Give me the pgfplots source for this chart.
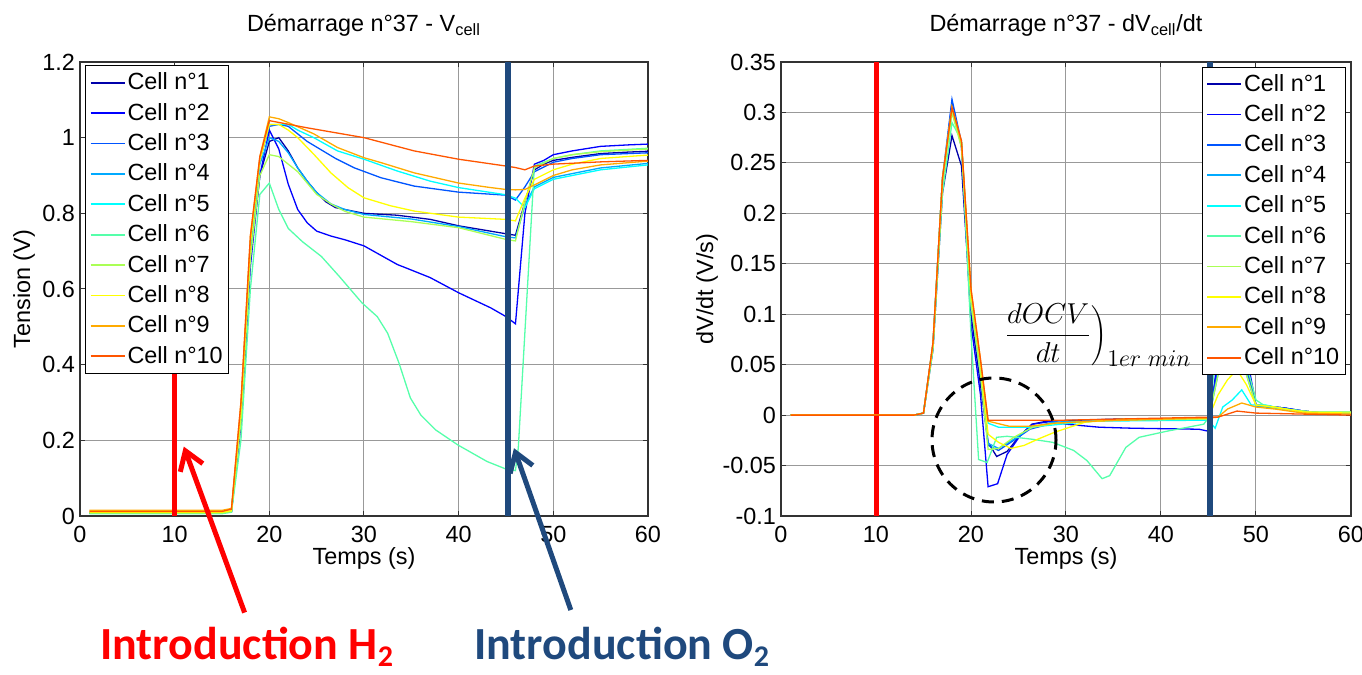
\documentclass[border=0pt]{standalone}
\usepackage{fontspec}
\setmainfont{Liberation Sans}
\newfontfamily\calibri{Carlito}
\usepackage{pgfplots}
\pgfplotsset{compat=1.18}
\usetikzlibrary{arrows.meta}
\definecolor{c1}{RGB}{0,0,170}
\definecolor{c2}{RGB}{0,0,255}
\definecolor{c3}{RGB}{0,85,255}
\definecolor{c4}{RGB}{0,170,255}
\definecolor{c5}{RGB}{0,255,255}
\definecolor{c6}{RGB}{85,255,170}
\definecolor{c7}{RGB}{170,255,85}
\definecolor{c8}{RGB}{255,255,0}
\definecolor{c9}{RGB}{255,170,0}
\definecolor{c10}{RGB}{255,85,0}
\definecolor{oxblue}{RGB}{31,73,125}
\newcommand\fs{\fontsize{11.7pt}{14pt}\selectfont}
\pgfplotsset{
  myaxis/.style={
    scale only axis, width=284pt, height=227pt,
    xmin=0, xmax=60, xtick={0,10,20,30,40,50,60},
    scaled ticks=false,
    grid=major, major grid style={black!40, line width=0.5pt},
    axis line style={black!80, line width=0.6pt},
    tick style={black!80, line width=0.5pt},
    tick align=inside, major tick length=2.5pt,
    tick label style={font=\fs}, label style={font=\fs},
    /pgf/number format/assume math mode=true,
    xticklabel style={yshift=-1.5pt},
    yticklabel style={xshift=1pt},
    xlabel={Temps (s)},
    xlabel style={at={(axis description cs:0.5,0)}, anchor=base, yshift=-24.5pt},
    title style={font=\fs, at={(axis description cs:0.5,1)}, anchor=base, yshift=9pt},
    legend cell align=left,
    legend image post style={line width=0.9pt},
    legend style={font=\fs, draw=black, line width=0.6pt, fill=white,
      row sep=2.2pt, inner sep=2pt,
      nodes={inner sep=1pt, text height=9pt, text depth=2pt}},
  },
  ln/.style={line width=0.65pt},
}
\begin{document}
\begin{tikzpicture}
\useasboundingbox (0,0) rectangle (681pt,337.5pt);
% ---------------- Left: V_cell ----------------
\begin{axis}[myaxis, at={(40pt,79.5pt)}, anchor=south west,
  ymin=0, ymax=1.2, ytick={0,0.2,0.4,0.6,0.8,1,1.2},
  yticklabels={0,0.2,0.4,0.6,0.8,1,1.2},
  title={Démarrage n°37 - V\textsubscript{cell}},
  ylabel={Tension (V)},
  ylabel style={at={(axis description cs:-0.088,0.5)}, anchor=base, rotate=0},
  legend style={at={(axis description cs:0.0088,0.993)}, anchor=north west}]
\addplot[ln, c1] coordinates {(1,0.008)(15,0.008)(16,0.012)(17,0.26)(18,0.68)(19,0.9)(20,0.99)(21,1.0)(22,0.965)(23,0.92)(24,0.885)(25,0.855)(26,0.83)(27,0.815)(28,0.81)(30,0.8)(33.5,0.795)(37,0.784)(40,0.767)(45,0.746)(46,0.742)(47,0.83)(48,0.915)(49,0.93)(50,0.94)(52,0.948)(55,0.958)(58,0.962)(60,0.964)};
\addplot[ln, c2] coordinates {(1,0.008)(15,0.008)(16,0.012)(17,0.24)(18,0.66)(19,0.9)(20,1.02)(21,0.97)(22,0.877)(23,0.81)(24,0.775)(25,0.753)(26.5,0.74)(28,0.73)(30,0.714)(33.5,0.665)(37,0.63)(40,0.59)(43.4,0.55)(45,0.527)(46,0.508)(47,0.8)(48,0.93)(49,0.94)(50,0.955)(52,0.965)(55,0.977)(58,0.981)(60,0.983)};
\addplot[ln, c3] coordinates {(1,0.008)(15,0.008)(16,0.012)(17,0.28)(18,0.72)(19,0.94)(20,1.03)(21,1.035)(22,1.03)(23,1.01)(24,0.99)(25,0.975)(26,0.96)(27,0.945)(29,0.92)(31.8,0.894)(35.3,0.872)(40,0.856)(45,0.848)(46,0.835)(47,0.87)(48,0.91)(50,0.935)(52,0.945)(55,0.955)(60,0.96)};
\addplot[ln, c4] coordinates {(1,0.008)(15,0.008)(16,0.012)(17,0.27)(18,0.7)(19,0.93)(20,1.0)(21,0.99)(22,0.96)(23,0.92)(24,0.885)(25,0.855)(26.5,0.825)(28,0.81)(30,0.797)(35,0.785)(40,0.765)(45,0.738)(46,0.735)(47,0.82)(48,0.87)(50,0.895)(52,0.905)(55,0.92)(60,0.932)};
\addplot[ln, c5] coordinates {(1,0.008)(15,0.008)(16,0.012)(17,0.28)(18,0.72)(19,0.94)(20,1.035)(22,1.035)(23,1.02)(24.7,1.0)(27.2,0.965)(30,0.943)(33.5,0.912)(37,0.885)(40,0.868)(45,0.849)(46,0.84)(47,0.815)(48,0.865)(50,0.89)(52,0.9)(55,0.915)(60,0.928)};
\addplot[ln, c6] coordinates {(1,0.006)(15,0.006)(16,0.01)(17,0.2)(18,0.6)(19,0.85)(20,0.88)(21,0.81)(22,0.76)(23.5,0.725)(25.5,0.686)(27.4,0.633)(29.8,0.563)(31.4,0.527)(32.5,0.483)(33.7,0.404)(34.9,0.312)(36,0.267)(37.6,0.227)(39.9,0.188)(43,0.144)(45,0.124)(46,0.12)(46.3,0.18)(48,0.925)(49,0.935)(50,0.945)(52,0.955)(55,0.965)(60,0.972)};
\addplot[ln, c7] coordinates {(1,0.008)(15,0.008)(16,0.012)(17,0.25)(18,0.68)(19,0.9)(20,0.955)(21,0.95)(22,0.93)(23,0.91)(24,0.88)(25,0.85)(26.5,0.825)(28,0.805)(30,0.79)(35,0.778)(40,0.762)(45,0.731)(46,0.727)(47,0.83)(48,0.92)(50,0.945)(52,0.955)(55,0.963)(60,0.97)};
\addplot[ln, c8] coordinates {(1,0.01)(15,0.01)(16,0.014)(17,0.28)(18,0.72)(19,0.94)(20,1.035)(21,1.035)(22,1.02)(23,1.0)(24.7,0.956)(26.5,0.907)(28.3,0.868)(30,0.841)(32.8,0.82)(35.3,0.806)(40,0.79)(45,0.784)(46,0.78)(47,0.84)(48,0.89)(50,0.915)(52,0.93)(55,0.945)(60,0.954)};
\addplot[ln, c9] coordinates {(1,0.015)(15,0.015)(16,0.02)(17,0.3)(18,0.74)(19,0.95)(20,1.055)(21,1.05)(22,1.04)(24.7,1.01)(27.2,0.974)(30,0.947)(31.8,0.934)(35.3,0.907)(40,0.88)(43.4,0.868)(45,0.863)(46,0.862)(47,0.863)(48,0.875)(50,0.9)(52,0.915)(55,0.928)(60,0.938)};
\addplot[ln, c10] coordinates {(1,0.012)(15,0.012)(16,0.018)(17,0.3)(18,0.74)(19,0.95)(20,1.045)(24,1.026)(30,1.0)(35.3,0.965)(40,0.943)(45,0.925)(46,0.921)(47,0.915)(48,0.925)(50,0.93)(55,0.936)(60,0.94)};
\addplot[forget plot, red, line width=2.5pt] coordinates {(10,0)(10,1.19)};
\addplot[forget plot, oxblue, line width=3pt] coordinates {(45.2,0)(45.2,1.2)};
\legend{Cell n°1,Cell n°2,Cell n°3,Cell n°4,Cell n°5,Cell n°6,Cell n°7,Cell n°8,Cell n°9,Cell n°10}
\end{axis}
% ---------------- Right: dV/dt ----------------
\begin{axis}[myaxis, at={(390.5pt,79.5pt)}, anchor=south west, width=285pt,
  ymin=-0.1, ymax=0.35, ytick={-0.1,-0.05,0,0.05,0.1,0.15,0.2,0.25,0.3,0.35},
  yticklabels={-0.1,-0.05,0,0.05,0.1,0.15,0.2,0.25,0.3,0.35},
  title={Démarrage n°37 - dV\textsubscript{cell}/dt},
  ylabel={dV/dt (V/s)},
  ylabel style={at={(axis description cs:-0.119,0.5)}, anchor=base, rotate=0},
  legend style={at={(axis description cs:0.991,0.99)}, anchor=north east}]
\addplot[forget plot, red, line width=2.5pt] coordinates {(10,-0.1)(10,0.35)};
\addplot[ln, c1] coordinates {(1,0)(14,0)(15,0.002)(16,0.065)(17,0.22)(18,0.277)(19,0.247)(20,0.1)(21,0.03)(21.8,-0.027)(22.7,-0.041)(23.8,-0.036)(25,-0.022)(26.4,-0.009)(28,-0.006)(35,-0.004)(45,-0.004)(46,0.05)(47,0.1)(48,0.12)(49,0.05)(50,0.01)(51,0.009)(53,0.007)(55,0.004)(57,0.002)(60,0.002)};
\addplot[ln, c2] coordinates {(1,0)(14,0)(15,0.002)(16,0.07)(17,0.23)(18,0.31)(19,0.265)(20,0.09)(21,0.02)(21.8,-0.071)(22.8,-0.068)(23.8,-0.039)(25.2,-0.02)(26.5,-0.009)(28.6,-0.006)(30,-0.009)(33.5,-0.012)(37,-0.013)(44,-0.014)(45,-0.016)(46,0.06)(47,0.14)(48,0.15)(49,0.06)(50,0.01)(51,0.009)(53,0.007)(55,0.004)(57,0.002)(60,0.002)};
\addplot[ln, c3] coordinates {(1,0)(14,0)(15,0.002)(16,0.07)(17,0.235)(18,0.313)(19,0.27)(20,0.11)(21,0.04)(21.8,-0.03)(22.9,-0.035)(24.5,-0.025)(26.2,-0.014)(28.6,-0.008)(35,-0.005)(45,-0.004)(46,0.045)(47,0.09)(48,0.1)(49,0.045)(50,0.01)(51,0.009)(53,0.007)(55,0.004)(57,0.002)(60,0.002)};
\addplot[ln, c4] coordinates {(1,0)(14,0)(15,0.002)(16,0.07)(17,0.235)(18,0.305)(19,0.268)(20,0.11)(21,0.04)(21.8,-0.028)(22.9,-0.033)(24.5,-0.024)(26.2,-0.013)(28.6,-0.007)(35,-0.005)(45,-0.005)(46,0.04)(47,0.08)(48,0.09)(49,0.04)(50,0.009)(51,0.008)(53,0.006)(55,0.004)(57,0.002)(60,0.002)};
\addplot[ln, c5] coordinates {(1,0)(14,0)(15,0.002)(16,0.07)(17,0.235)(18,0.3)(19,0.27)(20,0.12)(21,0.05)(21.8,-0.008)(22.9,-0.012)(26.2,-0.012)(29.5,-0.009)(33,-0.006)(45,-0.005)(45.7,-0.013)(46.5,0.008)(47.5,0.015)(48.5,0.025)(49.5,0.01)(51,0.01)(53,0.006)(56,0.002)(60,0.002)};
\addplot[ln, c6] coordinates {(1,0)(14,0)(15,0.002)(16,0.065)(17,0.22)(18,0.29)(19,0.272)(20,0.08)(20.8,-0.044)(21.7,-0.047)(22.7,-0.022)(23.8,-0.021)(26.5,-0.024)(28.6,-0.027)(30.8,-0.035)(32.2,-0.045)(33.8,-0.063)(34.6,-0.06)(36.3,-0.032)(37.7,-0.022)(40.6,-0.016)(44.5,-0.009)(45.2,0)(46,0.1)(47,0.2)(48,0.15)(49,0.05)(50,0.015)(50.8,0.01)(53,0.006)(56,0.003)(60,0.003)};
\addplot[ln, c7] coordinates {(1,0)(14,0)(15,0.002)(16,0.068)(17,0.23)(18,0.3)(19,0.265)(20,0.11)(21,0.04)(21.8,-0.034)(22.9,-0.033)(24.5,-0.022)(26.5,-0.012)(29,-0.008)(35,-0.005)(45,-0.004)(46,0.04)(47,0.08)(48,0.09)(49,0.04)(50,0.01)(51,0.009)(53,0.006)(56,0.003)(60,0.003)};
\addplot[ln, c8] coordinates {(1,0)(14,0)(15,0.002)(16,0.07)(17,0.235)(18,0.305)(19,0.27)(20,0.12)(21,0.05)(21.8,-0.019)(22.9,-0.027)(24.2,-0.033)(25.6,-0.03)(27,-0.024)(28.8,-0.017)(32,-0.007)(36,-0.004)(45,-0.003)(46,0.02)(47,0.035)(48,0.045)(49,0.03)(50,0.01)(52,0.008)(55,0.003)(60,0.002)};
\addplot[ln, c9] coordinates {(1,0)(14,0)(15,0.002)(16,0.072)(17,0.235)(18,0.305)(19,0.27)(20,0.125)(21,0.055)(21.8,-0.006)(24,-0.011)(26.2,-0.011)(28.8,-0.008)(33,-0.006)(40,-0.004)(45,-0.003)(46,-0.002)(47,0.006)(48.5,0.012)(50,0.008)(52,0.006)(55,0.002)(60,0.001)};
\addplot[ln, c10] coordinates {(1,0)(14,0)(15,0.002)(16,0.072)(17,0.235)(18,0.305)(19,0.272)(20,0.125)(21,0.055)(21.8,-0.005)(30,-0.005)(40,-0.003)(45,-0.002)(46,-0.002)(47,0.001)(48,0.004)(50,0.002)(55,0.001)(60,0)};
\addplot[forget plot, oxblue, line width=3pt] coordinates {(45.2,-0.1)(45.2,0.35)};
\legend{Cell n°1,Cell n°2,Cell n°3,Cell n°4,Cell n°5,Cell n°6,Cell n°7,Cell n°8,Cell n°9,Cell n°10}
\end{axis}
% ---------------- annotations ----------------
\draw[black, line width=1.5pt, dash pattern=on 6pt off 4pt] (497pt,117.5pt) circle (31pt);
\node[anchor=base west, inner sep=0pt, font=\fontsize{14.5pt}{16pt}\selectfont] at (501pt,166pt)
  {$\displaystyle\left.\frac{dOCV}{dt}\right)_{\mbox{\fontsize{12pt}{13pt}\selectfont$1er\;min$}}$};
\draw[red, line width=2.5pt, -{Straight Barb[length=9pt,width=12pt,line width=2.5pt]}] (122.3pt,31.2pt) -- (91.9pt,114.2pt);
\draw[oxblue, line width=2.5pt, -{Straight Barb[length=9pt,width=12pt,line width=2.5pt]}] (285.4pt,32.5pt) -- (257pt,113.4pt);
\node[anchor=base west, inner sep=0pt, text=red, font=\calibri\bfseries\fontsize{23pt}{26pt}\selectfont] at (50pt,7.5pt) {Introduction H\raisebox{-0.15em}{\fontsize{15pt}{15pt}\selectfont 2}};
\node[anchor=base west, inner sep=0pt, text=oxblue, font=\calibri\bfseries\fontsize{23pt}{26pt}\selectfont] at (237pt,7.5pt) {Introduction O\raisebox{-0.15em}{\fontsize{15pt}{15pt}\selectfont 2}};
\end{tikzpicture}
\end{document}
